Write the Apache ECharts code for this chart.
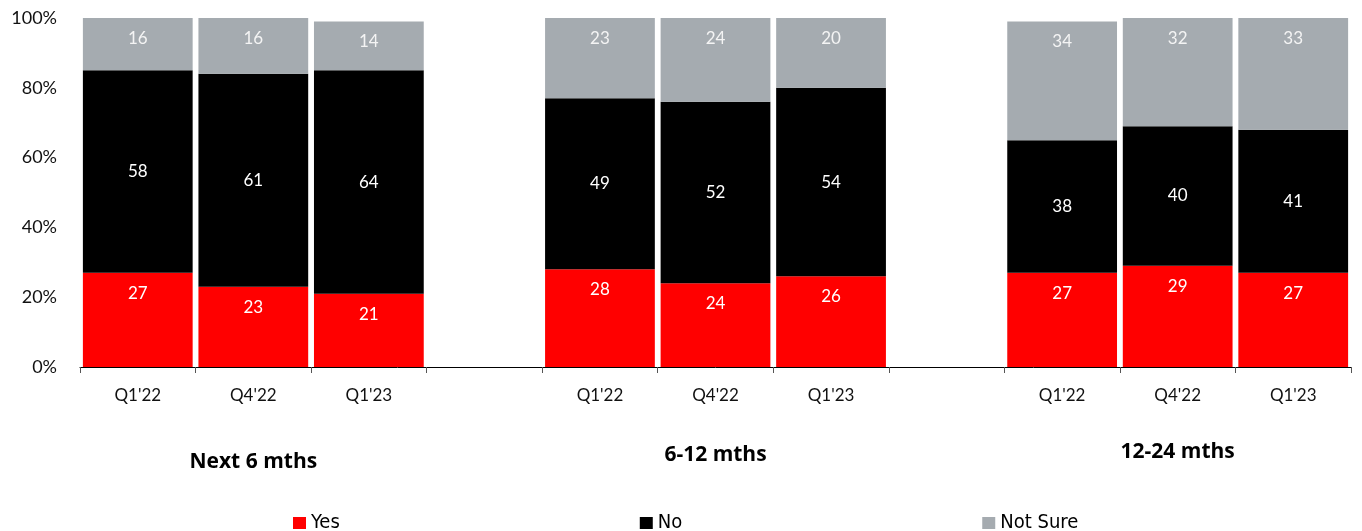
<!DOCTYPE html>
<html>
<head>
<meta charset="utf-8">
<script src="https://cdn.jsdelivr.net/npm/echarts@6/dist/echarts.min.js"></script>
<style>
  html, body { margin: 0; padding: 0; background: #fff; }
  #chart { width: 1362px; height: 531px; }
</style>
</head>
<body>
<div id="chart"></div>
<script>
// Quarter labels per bar; empty entries are spacer slots between horizons
const categories = ["Q1'22", "Q4'22", "Q1'23", "", "Q1'22", "Q4'22", "Q1'23", "", "Q1'22", "Q4'22", "Q1'23"];
const yesValues = [27, 23, 21, null, 28, 24, 26, null, 27, 29, 27];
const noValues = [58, 61, 64, null, 49, 52, 54, null, 38, 40, 41];
const notSureValues = [16, 16, 14, null, 23, 24, 20, null, 34, 32, 33];
// Horizon names, shown under the middle bar of each group
const groupLabels = ['Next 6 mths', '6-12 mths', '12-24 mths'];
const groupCenters = [1, 5, 9];
const yTicks = [0, 20, 40, 60, 80, 100];

const FONT = 'Lato, "Noto Sans", sans-serif';
const GROUP_FONT = '"Open Sans", "Noto Sans", sans-serif';

const groupAxisData = categories.map((_, i) => {
  const g = groupCenters.indexOf(i);
  return g >= 0 ? groupLabels[g] : '';
});

function segLabel(pos, color) {
  return {
    show: true,
    position: pos,
    distance: 12,
    color: color,
    fontFamily: FONT,
    fontSize: 17
  };
}

const groupStyle = { fontFamily: GROUP_FONT, fontSize: 21, fontWeight: 'bold', color: '#000' };

const chart = echarts.init(document.getElementById('chart'), null, { renderer: 'canvas' });
chart.setOption({
  animation: false,
  grid: { left: 80, right: 11, top: 18, bottom: 164, containLabel: false },
  legend: {
    bottom: -7,
    left: 288,
    itemWidth: 13,
    itemHeight: 12,
    itemGap: 300,
    icon: 'rect',
    textStyle: { fontFamily: '"DejaVu Sans Condensed", "Liberation Sans Narrow", sans-serif', fontSize: 20, color: '#000' },
    data: ['Yes', 'No', 'Not Sure']
  },
  xAxis: [
    {
      type: 'category',
      data: categories,
      axisLine: { lineStyle: { color: '#000', width: 1 } },
      axisTick: { show: true, interval: 0, length: 6, lineStyle: { color: '#555' } },
      axisLabel: { interval: 0, margin: 20, color: '#111', fontFamily: FONT, fontSize: 17 }
    },
    {
      type: 'category',
      data: groupAxisData,
      position: 'bottom',
      offset: 75,
      axisLine: { show: false },
      axisTick: { show: false },
      axisLabel: {
        interval: 0,
        margin: 0,
        formatter: function (v) {
          const g = groupLabels.indexOf(v);
          if (g < 0) return '';
          return '{g' + g + '|' + v + '}';
        },
        rich: {
          g0: Object.assign({ padding: [10, 0, 0, 0] }, groupStyle),
          g1: Object.assign({ padding: [3, 0, 0, 0] }, groupStyle),
          g2: Object.assign({ padding: [0, 0, 0, 0] }, groupStyle)
        }
      }
    }
  ],
  yAxis: {
    type: 'value',
    min: yTicks[0],
    max: yTicks[yTicks.length - 1],
    interval: 20,
    axisLine: { show: false },
    axisTick: { show: false },
    splitLine: { show: false },
    axisLabel: { formatter: '{value}%', margin: 23, color: '#111', fontFamily: FONT, fontSize: 18 }
  },
  series: [
    {
      name: 'Yes', type: 'bar', stack: 'total', barWidth: '95%',
      itemStyle: { color: '#FF0000' },
      label: segLabel('insideTop', '#fff'),
      data: yesValues
    },
    {
      name: 'No', type: 'bar', stack: 'total', barWidth: '95%',
      itemStyle: { color: '#000000' },
      label: segLabel('inside', '#fff'),
      data: noValues
    },
    {
      name: 'Not Sure', type: 'bar', stack: 'total', barWidth: '95%',
      itemStyle: { color: '#A5ABB0' },
      label: segLabel('insideTop', '#f4f4f4'),
      data: notSureValues
    }
  ]
});
</script>
</body>
</html>
